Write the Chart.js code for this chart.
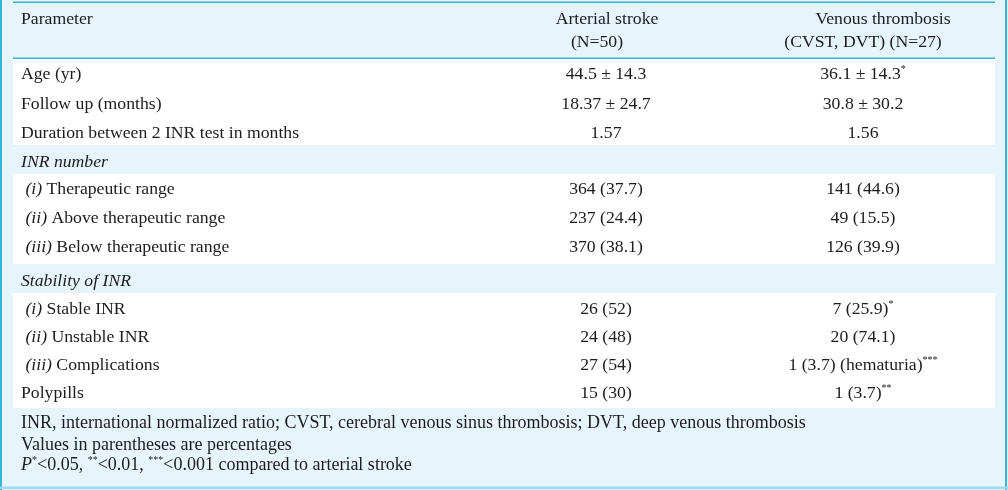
<!DOCTYPE html>
<html lang="en">
<head>
    <meta charset="UTF-8">
    <title>INR table</title>
    <script src="https://cdn.jsdelivr.net/npm/chart.js@4.4.1/dist/chart.umd.min.js"></script>
    <style>
        body {
            margin: 0;
            background: #ffffff;
        }
        #tableChart {
            display: block;
        }
    </style>
</head>
<body>
    <canvas id="tableChart" width="1008" height="490"></canvas>

<script>
// table content
const headerLines = [
  ['Parameter', ''],
  ['Arterial stroke', '(N=50)'],
  ['Venous thrombosis', '(CVST, DVT) (N=27)']
];
const parameters = [
  'Age (yr)',
  'Follow up (months)',
  'Duration between 2 INR test in months',
  '_INR number_',
  ' _(i)_ Therapeutic range',
  ' _(ii)_ Above therapeutic range',
  ' _(iii)_ Below therapeutic range',
  '_Stability of INR_',
  ' _(i)_ Stable INR',
  ' _(ii)_ Unstable INR',
  ' _(iii)_ Complications',
  'Polypills'
];
const arterialStroke = [
  '44.5 ± 14.3', '18.37 ± 24.7', '1.57', null,
  '364 (37.7)', '237 (24.4)', '370 (38.1)', null,
  '26 (52)', '24 (48)', '27 (54)', '15 (30)'
];
const venousThrombosis = [
  '36.1 ± 14.3^{*}', '30.8 ± 30.2', '1.56', null,
  '141 (44.6)', '49 (15.5)', '126 (39.9)', null,
  '7 (25.9)^{*}', '20 (74.1)', '1 (3.7) (hematuria)^{***}', '1 (3.7)^{**}'
];
const footnotes = [
  'INR, international normalized ratio; CVST, cerebral venous sinus thrombosis; DVT, deep venous thrombosis',
  'Values in parentheses are percentages',
  '_P_^{*}<0.05, ^{**}<0.01, ^{***}<0.001 compared to arterial stroke'
];

// layout (in scale units)
const colX = [21, 606, 863];
const headerX = [[21, 21], [607, 597], [883, 863]];
const headerY = [18, 41];
const rowY = [73, 103, 132, 161, 188.5, 217.5, 246, 280, 308, 336, 364.5, 392.5];
const footY = [422.5, 443.7, 464];
const whiteBands = [[58, 145], [174, 264], [293, 408]];

const FONT = '"Liberation Serif", "Times New Roman", serif';
const SIZE = 17.7;
const FOOT_SIZE = 18;
const LINE = '#39b3da';
const BG = '#e6f5fc';
const INK = '#1c1c1c';

function parseRich(str) {
  const parts = str.split(/(_[^_]+_|\^\{[^}]+\})/).filter(s => s.length);
  return parts.map(p => {
    if (p[0] === '_' && p[p.length - 1] === '_') return { text: p.slice(1, -1), italic: true };
    if (p.startsWith('^{')) return { text: p.slice(2, -1), sup: true };
    return { text: p };
  });
}

function segFont(seg, size) {
  return (seg.italic ? 'italic ' : '') + (seg.sup ? 10 : size) + 'px ' + FONT;
}

function drawRich(ctx, str, x, yMid, align, size) {
  size = size || SIZE;
  const segs = parseRich(str);
  let total = 0;
  segs.forEach(s => {
    ctx.font = segFont(s, size);
    s.w = ctx.measureText(s.text).width;
    total += s.w;
  });
  let cx = align === 'center' ? x - total / 2 : x;
  const base = yMid + 5.9;
  segs.forEach(s => {
    ctx.font = segFont(s, size);
    ctx.fillText(s.text, cx, s.sup ? base - 7 : base);
    cx += s.w;
  });
}

const tablePlugin = {
  id: 'tablePlugin',
  beforeDraw(chart) {
    const ctx = chart.ctx;
    const xs = chart.scales.x;
    const ys = chart.scales.y;
    const px = v => xs.getPixelForValue(v);
    const py = v => ys.getPixelForValue(v);
    const left = px(0), right = px(1008);
    const inL = px(13), inR = px(995);

    ctx.save();
    ctx.fillStyle = BG;
    ctx.fillRect(left, py(0), right - left, py(490) - py(0));

    ctx.fillStyle = '#ffffff';
    whiteBands.forEach(b => ctx.fillRect(inL, py(b[0]), inR - inL, py(b[1]) - py(b[0])));

    // rules
    ctx.fillStyle = LINE;
    ctx.fillRect(left, py(0), 2, py(490) - py(0));
    ctx.fillRect(px(1005), py(0), 2, py(490) - py(0));
    ctx.fillRect(inL, py(1.5), inR - inL, 1.5);
    ctx.fillRect(inL, py(57.5), inR - inL, 1.5);
    ctx.fillStyle = '#9fd9ef';
    ctx.fillRect(left, py(486.5), right - left, 2.5);

    ctx.fillStyle = INK;
    ctx.textBaseline = 'alphabetic';
    ctx.textAlign = 'left';

    headerLines.forEach((lines, c) => {
      lines.forEach((t, i) => {
        if (!t) return;
        drawRich(ctx, t, px(headerX[c][i]), py(headerY[i]), c === 0 ? 'left' : 'center');
      });
    });

    parameters.forEach((p, r) => {
      const y = py(rowY[r]);
      drawRich(ctx, p, px(colX[0]), y, 'left');
      if (arterialStroke[r] !== null) drawRich(ctx, arterialStroke[r], px(colX[1]), y, 'center');
      if (venousThrombosis[r] !== null) drawRich(ctx, venousThrombosis[r], px(colX[2]), y, 'center');
    });

    footnotes.forEach((f, i) => drawRich(ctx, f, px(colX[0]), py(footY[i]), 'left', FOOT_SIZE));
    ctx.restore();
  }
};

new Chart('tableChart', {
  type: 'scatter',
  data: { datasets: [{ data: [] }] },
  options: {
    responsive: false,
    animation: false,
    layout: { padding: 0 },
    plugins: { legend: { display: false }, tooltip: { enabled: false } },
    scales: {
      x: { type: 'linear', min: 0, max: 1008, display: false },
      y: { type: 'linear', min: 0, max: 490, reverse: true, display: false }
    }
  },
  plugins: [tablePlugin]
});
</script>
</body>
</html>
